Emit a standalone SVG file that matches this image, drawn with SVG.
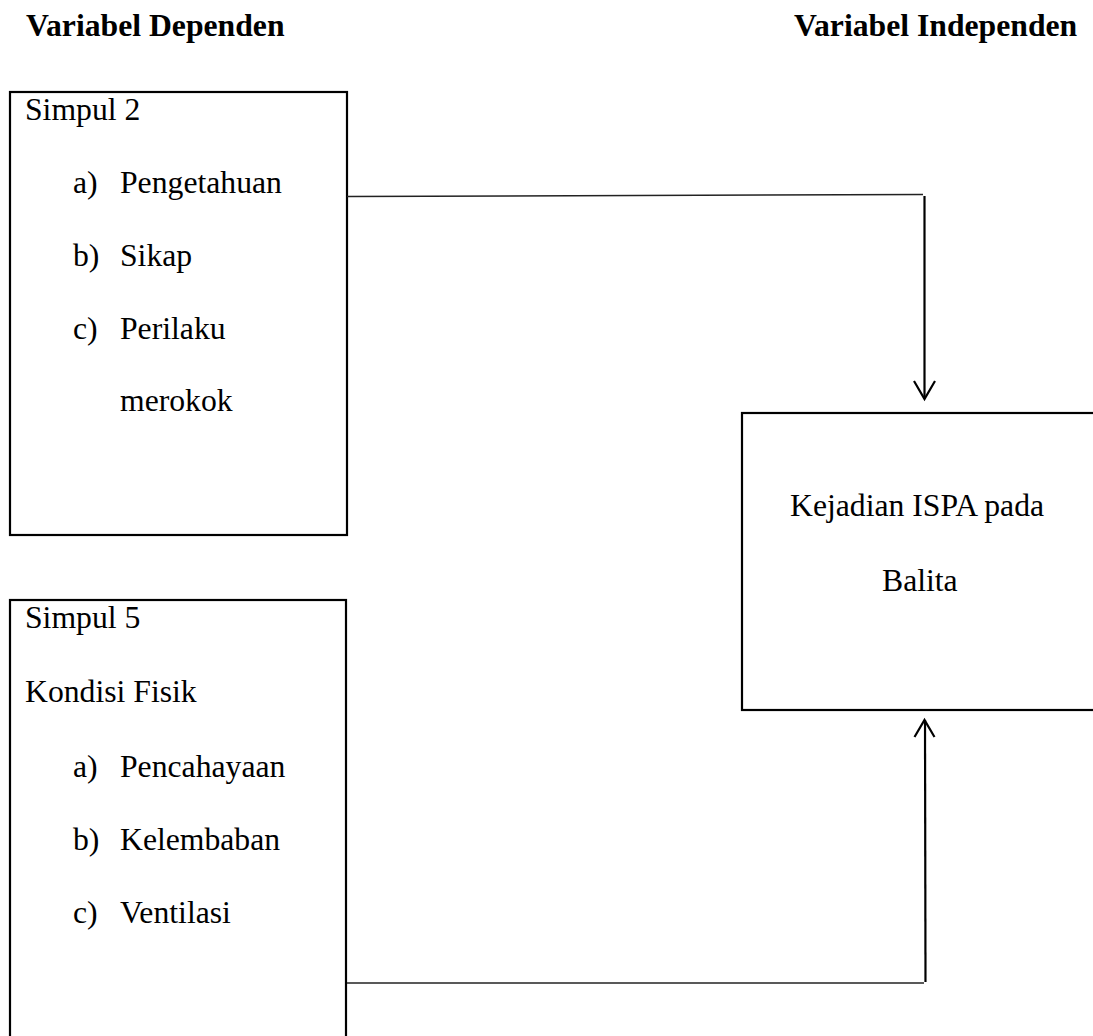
<svg xmlns="http://www.w3.org/2000/svg" width="1093" height="1036" viewBox="0 0 1093 1036">
<style>
  text { font-family: "Liberation Serif", "Times New Roman", serif; font-size: 31.7px; fill: #000; }
  .hd { font-weight: bold; }
  .box { fill: #fff; stroke: #000; stroke-width: 2.2; }
  .h { fill: none; stroke: #222; stroke-width: 1.4; }
  .v { fill: none; stroke: #000; stroke-width: 2.2; }
</style>
<rect width="1093" height="1036" fill="#fff"/>
<g id="headers">
  <text class="hd" x="26" y="36">Variabel Dependen</text>
  <text class="hd" x="794" y="36">Variabel Independen</text>
</g>
<g id="simpul2">
  <rect class="box" x="10" y="92" width="337" height="443"/>
  <text x="25" y="120">Simpul 2</text>
  <text x="73" y="193">a)</text><text x="120" y="193">Pengetahuan</text>
  <text x="73" y="266">b)</text><text x="120" y="266">Sikap</text>
  <text x="73" y="339">c)</text><text x="120" y="339">Perilaku</text>
  <text x="120" y="411">merokok</text>
</g>
<g id="simpul5">
  <rect class="box" x="10" y="600" width="336" height="450"/>
  <text x="25" y="628">Simpul 5</text>
  <text x="25" y="702">Kondisi Fisik</text>
  <text x="73" y="777">a)</text><text x="120" y="777">Pencahayaan</text>
  <text x="73" y="850">b)</text><text x="120" y="850">Kelembaban</text>
  <text x="73" y="923">c)</text><text x="120" y="923">Ventilasi</text>
</g>
<g id="kejadian">
  <rect class="box" x="742" y="413" width="370" height="297"/>
  <text x="790" y="516">Kejadian ISPA pada</text>
  <text x="882" y="591">Balita</text>
</g>
<g id="connectors">
  <path class="h" d="M347 196.5 L923 194.5"/>
  <path class="v" d="M924.5 196 L924.5 399"/>
  <path class="v" d="M914 381 L924.5 399 L935 381"/>
  <path class="h" d="M347 983 L924 983"/>
  <path class="v" d="M925.5 982 L925 720"/>
  <path class="v" d="M914.5 737 L924.5 720 L934.5 737"/>
</g>
</svg>
